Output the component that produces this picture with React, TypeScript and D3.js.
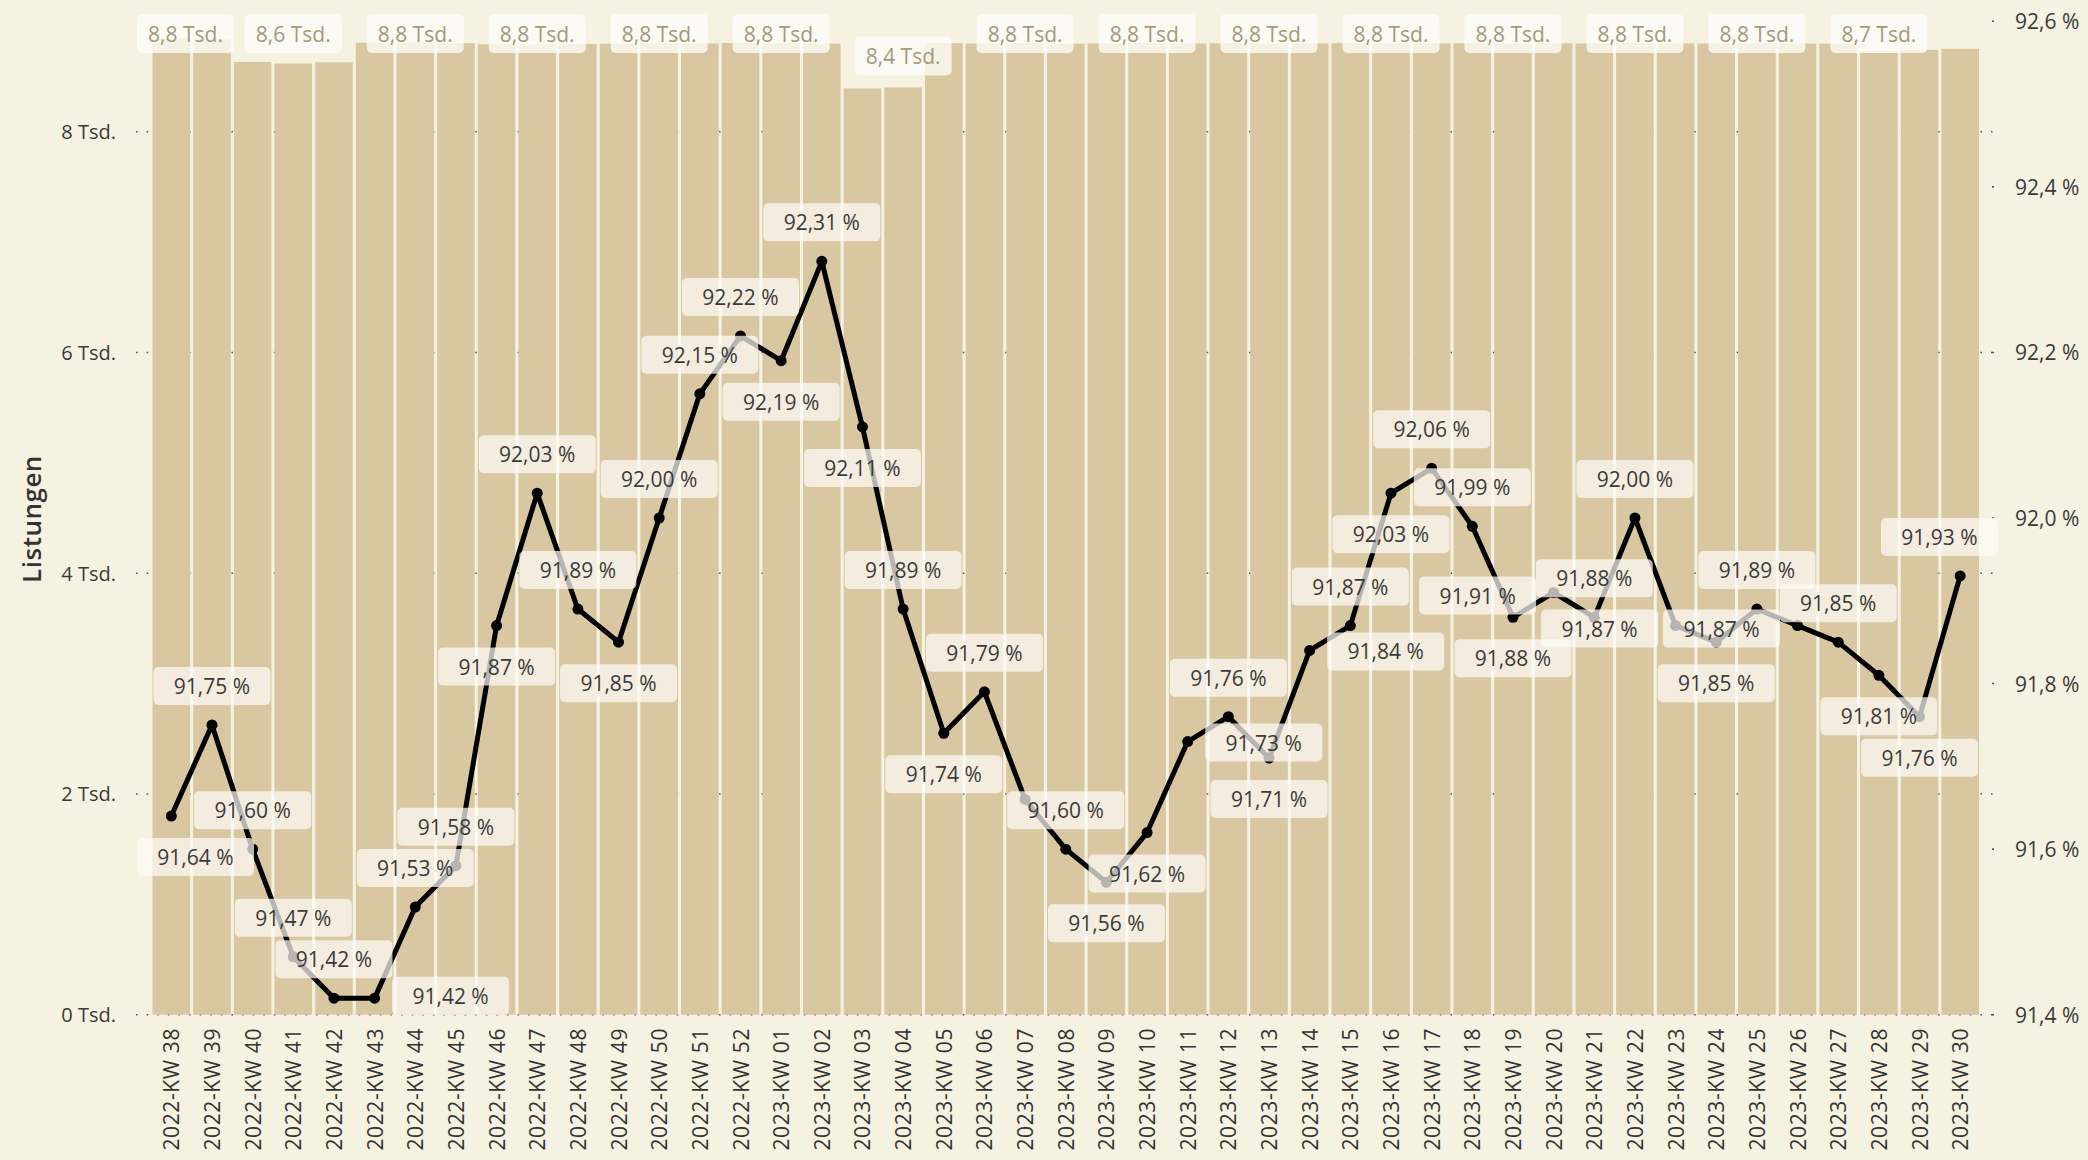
import React from 'react';
import * as d3 from 'd3';

// calendar weeks shown on the x axis
const weeks = [
  '2022-KW 38', '2022-KW 39', '2022-KW 40', '2022-KW 41', '2022-KW 42', '2022-KW 43',
  '2022-KW 44', '2022-KW 45', '2022-KW 46', '2022-KW 47', '2022-KW 48', '2022-KW 49',
  '2022-KW 50', '2022-KW 51', '2022-KW 52', '2023-KW 01', '2023-KW 02', '2023-KW 03',
  '2023-KW 04', '2023-KW 05', '2023-KW 06', '2023-KW 07', '2023-KW 08', '2023-KW 09',
  '2023-KW 10', '2023-KW 11', '2023-KW 12', '2023-KW 13', '2023-KW 14', '2023-KW 15',
  '2023-KW 16', '2023-KW 17', '2023-KW 18', '2023-KW 19', '2023-KW 20', '2023-KW 21',
  '2023-KW 22', '2023-KW 23', '2023-KW 24', '2023-KW 25', '2023-KW 26', '2023-KW 27',
  '2023-KW 28', '2023-KW 29', '2023-KW 30',
];

// Listungen (count per week)
const listungen = [
  8841, 8838, 8632, 8618, 8629, 8806, 8810, 8802, 8792, 8788, 8795, 8797,
  8800, 8799, 8803, 8801, 8798, 8392, 8401, 8802, 8799, 8801, 8797, 8800,
  8802, 8799, 8801, 8798, 8800, 8802, 8799, 8800, 8801, 8798, 8800, 8799,
  8802, 8800, 8799, 8801, 8798, 8797, 8728, 8742, 8751,
];

// quote in %
const quote = [
  91.64, 91.75, 91.6, 91.47, 91.42, 91.42, 91.53, 91.58, 91.87, 92.03, 91.89, 91.85,
  92.0, 92.15, 92.22, 92.19, 92.31, 92.11, 91.89, 91.74, 91.79, 91.66, 91.6, 91.56,
  91.62, 91.73, 91.76, 91.71, 91.84, 91.87, 92.03, 92.06, 91.99, 91.88, 91.91, 91.88,
  92.0, 91.87, 91.85, 91.89, 91.87, 91.85, 91.81, 91.76, 91.93,
];

// where each % label sits: a = above, b = below, l = left, r = right, '' = hidden
const labelPlacement = [
  'b', 'a', 'a', 'a', 'a', 'r', 'a', 'a', 'b', 'a', 'a', 'b',
  'a', 'a', 'a', 'b', 'a', 'b', 'a', 'b', 'a', '', 'a', 'b',
  'b', 'r', 'a', 'b', 'r', 'a', 'b', 'a', 'a', 'b', 'l', 'a',
  'a', 'l', 'b', 'a', 'l', 'a', 'b', 'b', 'a',
];

const leftTicks = [0, 2000, 4000, 6000, 8000];
const rightTicks = [91.4, 91.6, 91.8, 92.0, 92.2, 92.4, 92.6];

const W = 2088;
const H = 1160;
const FONT = "'Open Sans', 'Noto Sans', sans-serif";
const BG = '#f6f2e2';
const BAR = '#d8c7a0';

const top = 21.3;
const bottom = 1014.7;
const gridLeft = 136;
const gridRight = 1995;

const fmtTsd = (v: number) => `${(v / 1000).toFixed(1).replace('.', ',')} Tsd.`;
const fmtPct = (v: number) => `${v.toFixed(2).replace('.', ',')} %`;

export default function App() {
  const x = d3.scaleBand<string>().domain(weeks).range([151, 1980.5]).paddingInner(0.075).paddingOuter(0.0375);
  const yL = d3.scaleLinear().domain([0, 9000]).range([bottom, top]);
  const yR = d3.scaleLinear().domain([91.4, 92.6]).range([bottom, top]);
  const cx = (i: number) => (x(weeks[i]) as number) + x.bandwidth() / 2;

  const line = d3
    .line<number>()
    .x((_, i) => cx(i))
    .y((d) => yR(d));

  const pBoxW = 117;
  const pBoxH = 38;
  const bBoxW = 97;
  const bBoxH = 39;

  const pctLabels = quote
    .map((v, i) => {
      const pos = labelPlacement[i];
      if (!pos) return null;
      const px = cx(i);
      const py = yR(v);
      let lx = px;
      let ly = py;
      if (pos === 'a') ly = py - 39;
      if (pos === 'b') ly = py + 41;
      if (pos === 'r') { lx = px + 76; ly = py + 1; }
      if (pos === 'l') { lx = px - 76; ly = py + 3; }
      lx = Math.max(137 + pBoxW / 2, Math.min(1998 - pBoxW / 2, lx));
      ly = Math.min(bottom - pBoxH / 2, ly);
      return { i, lx, ly, text: fmtPct(v) };
    })
    .filter(Boolean) as { i: number; lx: number; ly: number; text: string }[];

  const barLabels = listungen
    .map((v, i) => ({ v, i }))
    .filter((d) => d.i % 3 === 0)
    .map(({ v, i }) => {
      const lx = Math.max(137 + bBoxW / 2, Math.min(1998 - bBoxW / 2, cx(i)));
      const boxTop = Math.max(14, yL(v) - 51);
      return { i, lx, boxTop, text: fmtTsd(v) };
    });

  return (
    <svg
      width={W}
      height={H}
      style={{ position: 'absolute', left: 0, top: 0, background: BG }}
      fontFamily={FONT}
    >
      <rect x={0} y={0} width={W} height={H} fill={BG} />

      {/* dotted gridlines, behind the bars */}
      <g>
        {leftTicks.map((t) => (
          <line
            key={t}
            x1={gridLeft}
            x2={gridRight}
            y1={yL(t)}
            y2={yL(t)}
            stroke='#555'
            strokeWidth={1.6}
            strokeDasharray='1.6,9'
          />
        ))}
        {rightTicks.map((t) => (
          <line key={t} x1={1992} x2={1994} y1={yR(t)} y2={yR(t)} stroke='#555' strokeWidth={1.6} />
        ))}
      </g>

      <g>
        {listungen.map((v, i) => (
          <rect
            key={weeks[i]}
            x={x(weeks[i])}
            y={yL(v)}
            width={x.bandwidth()}
            height={bottom - yL(v)}
            fill={BAR}
          />
        ))}
      </g>

      {/* left axis */}
      <g fontSize={20} fill='#3a3a3a'>
        {leftTicks.map((t) => (
          <text key={t} x={116} y={yL(t)} textAnchor='end' dominantBaseline='central'>
            {`${t / 1000} Tsd.`}
          </text>
        ))}
      </g>
      <text
        transform={`translate(31, 519) rotate(-90)`}
        textAnchor='middle'
        dominantBaseline='central'
        fontSize={26}
        fontWeight={600}
        fill='#333'
        letterSpacing={0.5}
      >
        Listungen
      </text>

      {/* right axis */}
      <g fontSize={21} fill='#3a3a3a'>
        {rightTicks.map((t) => (
          <text key={t} x={2015} y={yR(t)} dominantBaseline='central'>
            {`${t.toFixed(1).replace('.', ',')} %`}
          </text>
        ))}
      </g>

      {/* x axis labels */}
      <g fontSize={21} fill='#333'>
        {weeks.map((w, i) => (
          <text
            key={w}
            transform={`translate(${cx(i)}, 1028) rotate(-90)`}
            textAnchor='end'
            dominantBaseline='central'
            letterSpacing={0.6}
          >
            {w}
          </text>
        ))}
      </g>

      {/* line */}
      <path d={line(quote) || ''} fill='none' stroke='#000' strokeWidth={5} strokeLinejoin='round' />
      {quote.map((v, i) => (
        <circle key={i} cx={cx(i)} cy={yR(v)} r={5.5} fill='#000' />
      ))}

      {/* % labels */}
      <g>
        {pctLabels.map((d) => (
          <g key={d.i}>
            <rect
              x={d.lx - pBoxW / 2}
              y={d.ly - pBoxH / 2}
              width={pBoxW}
              height={pBoxH}
              rx={5}
              fill='#fdfbf6'
              fillOpacity={0.72}
            />
            <text
              x={d.lx}
              y={d.ly}
              textAnchor='middle'
              dominantBaseline='central'
              fontSize={21}
              fill='#3b3b3b'
            >
              {d.text}
            </text>
          </g>
        ))}
      </g>

      {/* bar value labels */}
      <g>
        {barLabels.map((d) => (
          <g key={d.i}>
            <rect
              x={d.lx - bBoxW / 2}
              y={d.boxTop}
              width={bBoxW}
              height={bBoxH}
              rx={5}
              fill='#fefdf9'
              fillOpacity={0.78}
            />
            <text
              x={d.lx}
              y={d.boxTop + bBoxH / 2}
              textAnchor='middle'
              dominantBaseline='central'
              fontSize={21}
              fill='#a6997c'
            >
              {d.text}
            </text>
          </g>
        ))}
      </g>
    </svg>
  );
}
